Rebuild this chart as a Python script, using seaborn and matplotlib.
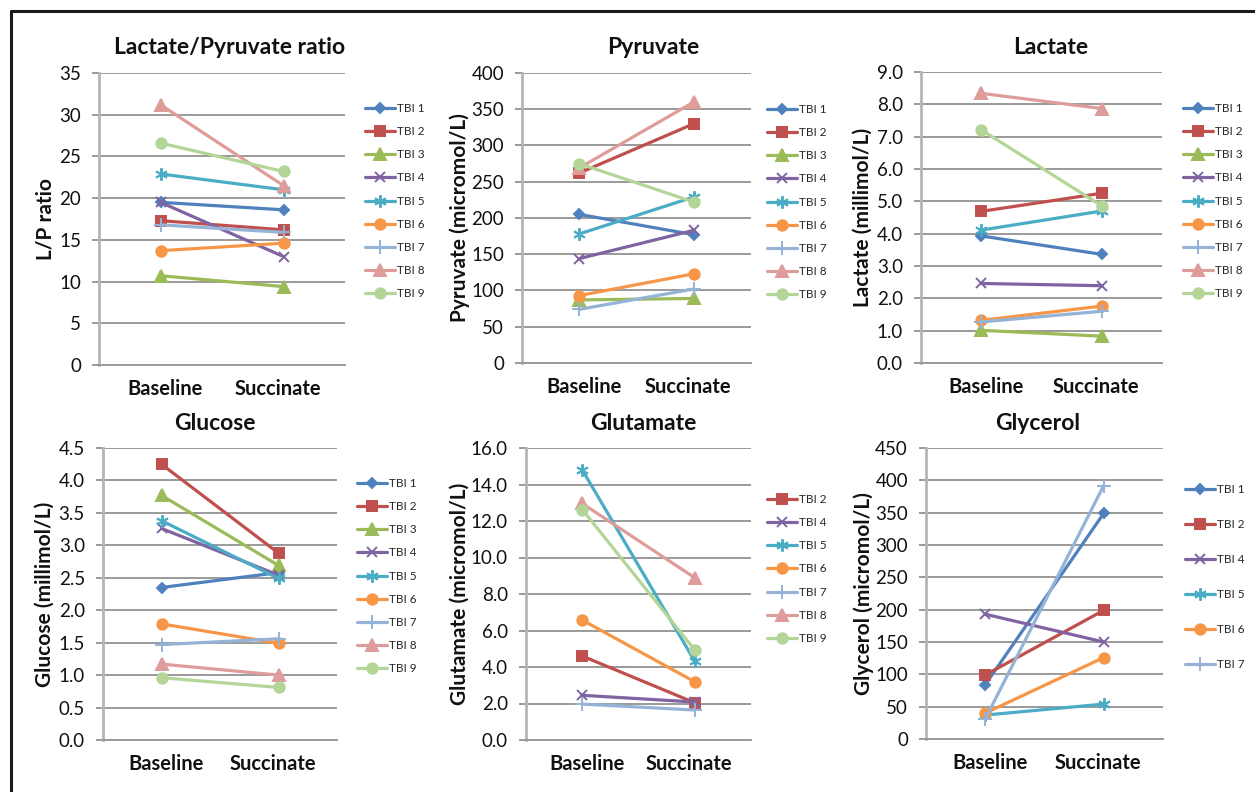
import pandas as pd
import matplotlib.pyplot as plt
import matplotlib.transforms as mtransforms
import seaborn as sns
from matplotlib.lines import Line2D

# ==========================================
# data
# ==========================================
PHASES = ["Baseline", "Succinate"]

LP_PATIENTS = ["TBI 1", "TBI 2", "TBI 3", "TBI 4", "TBI 5", "TBI 6", "TBI 7", "TBI 8", "TBI 9"]
LP_BASE = [19.5, 17.3, 10.7, 19.5, 22.9, 13.7, 16.8, 31.2, 26.6]
LP_SUCC = [18.6, 16.2, 9.4, 13.0, 21.0, 14.6, 15.9, 21.5, 23.2]

PYR_PATIENTS = ["TBI 1", "TBI 2", "TBI 3", "TBI 4", "TBI 5", "TBI 6", "TBI 7", "TBI 8", "TBI 9"]
PYR_BASE = [205, 262, 87, 144, 178, 93, 74, 269, 275]
PYR_SUCC = [177, 330, 89, 183, 229, 123, 102, 360, 222]

LAC_PATIENTS = ["TBI 1", "TBI 2", "TBI 3", "TBI 4", "TBI 5", "TBI 6", "TBI 7", "TBI 8", "TBI 9"]
LAC_BASE = [3.93, 4.69, 1.01, 2.46, 4.11, 1.32, 1.27, 8.34, 7.21]
LAC_SUCC = [3.36, 5.25, 0.83, 2.39, 4.70, 1.76, 1.60, 7.87, 4.86]

GLC_PATIENTS = ["TBI 1", "TBI 2", "TBI 3", "TBI 4", "TBI 5", "TBI 6", "TBI 7", "TBI 8", "TBI 9"]
GLC_BASE = [2.35, 4.25, 3.77, 3.26, 3.38, 1.79, 1.47, 1.17, 0.96]
GLC_SUCC = [2.58, 2.88, 2.69, 2.54, 2.49, 1.49, 1.56, 1.00, 0.81]

GLU_PATIENTS = ["TBI 2", "TBI 4", "TBI 5", "TBI 6", "TBI 7", "TBI 8", "TBI 9"]
GLU_BASE = [4.6, 2.45, 14.8, 6.57, 1.97, 12.96, 12.63]
GLU_SUCC = [2.04, 2.08, 4.32, 3.19, 1.64, 8.89, 4.93]

GLY_PATIENTS = ["TBI 1", "TBI 2", "TBI 4", "TBI 5", "TBI 6", "TBI 7"]
GLY_BASE = [84, 99, 193, 37, 40, 31]
GLY_SUCC = [349, 199, 150, 54, 126, 392]

# excel-ish series styles
COLORS = {"TBI 1": "#4F81BD", "TBI 2": "#C0504D", "TBI 3": "#9BBB59", "TBI 4": "#8064A2",
          "TBI 5": "#4BACC6", "TBI 6": "#F79646", "TBI 7": "#95B3D7", "TBI 8": "#DE9C9A",
          "TBI 9": "#B3D597"}
MARKERS = {"TBI 1": ("D", 5.5), "TBI 2": ("s", 7), "TBI 3": ("^", 8), "TBI 4": ("x", 7),
           "TBI 5": ((6, 2, 0), 9), "TBI 6": ("o", 7.5), "TBI 7": ("+", 10),
           "TBI 8": ("^", 8), "TBI 9": ("o", 7.5)}

# ==========================================
# style
# ==========================================
sns.set_theme(style="white")
plt.rcParams['font.family'] = ['Lato', 'DejaVu Sans']

W, H = 1255, 792
fig = plt.figure(figsize=(W / 100, H / 100), dpi=100)


def fx(x):
    return x / W


def fy(y):
    return 1 - y / H


# pixel layout: axes box, title centre, ylabel x, legend top-left, legend spacing
PANELS = [
    dict(title="Lactate/Pyruvate ratio", ylabel="L/P ratio", pts=LP_PATIENTS, base=LP_BASE, succ=LP_SUCC,
         box=(99, 73, 345, 365), ymax=35, step=5, fmt="{:.0f}", tpos=(230, 48), ylx=45,
         leg=(365, 110), lsp=1.03),
    dict(title="Pyruvate", ylabel="Pyruvate (micromol/L)", pts=PYR_PATIENTS, base=PYR_BASE, succ=PYR_SUCC,
         box=(522, 73, 751, 363), ymax=400, step=50, fmt="{:.0f}", tpos=(653, 48), ylx=460,
         leg=(767, 111), lsp=1.03),
    dict(title="Lactate", ylabel="Lactate (millimol/L)", pts=LAC_PATIENTS, base=LAC_BASE, succ=LAC_SUCC,
         box=(921, 72, 1162, 363), ymax=9, step=1, fmt="{:.1f}", tpos=(1051, 47), ylx=863,
         leg=(1183, 110), lsp=1.03),
    dict(title="Glucose", ylabel="Glucose (millimol/L)", pts=GLC_PATIENTS, base=GLC_BASE, succ=GLC_SUCC,
         box=(103, 448, 337, 740), ymax=4.5, step=0.5, fmt="{:.1f}", tpos=(215, 423), ylx=45,
         leg=(357, 485), lsp=1.03),
    dict(title="Glutamate", ylabel="Glutamate (micromol/L)", pts=GLU_PATIENTS, base=GLU_BASE, succ=GLU_SUCC,
         box=(526, 448, 751, 740), ymax=16, step=2, fmt="{:.1f}", tpos=(643, 423), ylx=460,
         leg=(767, 501), lsp=1.03),
    dict(title="Glycerol", ylabel="Glycerol (micromol/L)", pts=GLY_PATIENTS, base=GLY_BASE, succ=GLY_SUCC,
         box=(926, 448, 1163, 739), ymax=450, step=50, fmt="{:.0f}", tpos=(1038, 423), ylx=864,
         leg=(1185, 491), lsp=2.03),
]

GRID = "#9a9a9a"

for p in PANELS:
    l, t, r, b = p["box"]
    ax = fig.add_axes([fx(l), fy(b), (r - l) / W, (b - t) / H])

    df = pd.DataFrame({
        "patient": p["pts"] * 2,
        "phase": [PHASES[0]] * len(p["pts"]) + [PHASES[1]] * len(p["pts"]),
        "value": p["base"] + p["succ"],
    })

    for name in p["pts"]:
        mk, ms = MARKERS[name]
        c = COLORS[name]
        sns.lineplot(data=df[df["patient"] == name], x="phase", y="value", ax=ax,
                     color=c, linewidth=2.3, marker=mk, markersize=ms,
                     markeredgecolor=c, markerfacecolor=c, markeredgewidth=1.4,
                     errorbar=None, label=name, legend=False)

    ax.set_xlim(-0.5, 1.5)
    ax.set_ylim(0, p["ymax"])
    yt = [i * p["step"] for i in range(int(round(p["ymax"] / p["step"])) + 1)]
    ax.set_yticks(yt)
    ax.set_yticklabels([p["fmt"].format(v) for v in yt])
    ax.yaxis.grid(True, color=GRID, linewidth=1.4)
    ax.set_axisbelow(True)
    ax.tick_params(axis="y", length=5, width=1.4, color=GRID, pad=8, labelsize=13.5,
                   left=True, labelcolor="#111111")
    ax.tick_params(axis="x", length=0, pad=10, labelsize=14.5, labelcolor="#111111")
    # excel pulls the category labels a little toward the middle
    for lab, dx in zip(ax.get_xticklabels(), [5, -6]):
        lab.set_fontweight("bold")
        lab.set_transform(lab.get_transform() + mtransforms.ScaledTranslation(dx / 100, 0, fig.dpi_scale_trans))
    for s in ["top", "right"]:
        ax.spines[s].set_visible(False)
    ax.spines["left"].set_color("#b5b5b5")
    ax.spines["left"].set_linewidth(2)
    ax.spines["bottom"].set_color(GRID)
    ax.spines["bottom"].set_linewidth(1.4)
    ax.set_xlabel("")
    ax.set_ylabel(p["ylabel"], fontsize=15, fontweight="bold", color="#111111")
    ax.yaxis.label.set_va("center")
    ax.yaxis.set_label_coords((p["ylx"] - l) / (r - l), 0.5)

    fig.text(fx(p["tpos"][0]), fy(p["tpos"][1]), p["title"], ha="center", va="center",
             fontsize=16.5, fontweight="bold", color="#111111")

    lx, ly = p["leg"]
    ax.legend(loc="upper left", bbox_to_anchor=(fx(lx), fy(ly - 7)), bbox_transform=fig.transFigure,
              frameon=False, fontsize=8.5, handlelength=2.5, handletextpad=0.2,
              labelspacing=p["lsp"], borderpad=0, borderaxespad=0)

# black frame (cut by the picture edge on right/bottom)
fig.add_artist(Line2D([fx(10.5), fx(10.5)], [fy(10.5), 0], color="#1a1a1a", linewidth=2.2))
fig.add_artist(Line2D([fx(10.5), 1], [fy(10.5), fy(10.5)], color="#1a1a1a", linewidth=2.2))

plt.savefig("out.png", dpi=100)
plt.close()
